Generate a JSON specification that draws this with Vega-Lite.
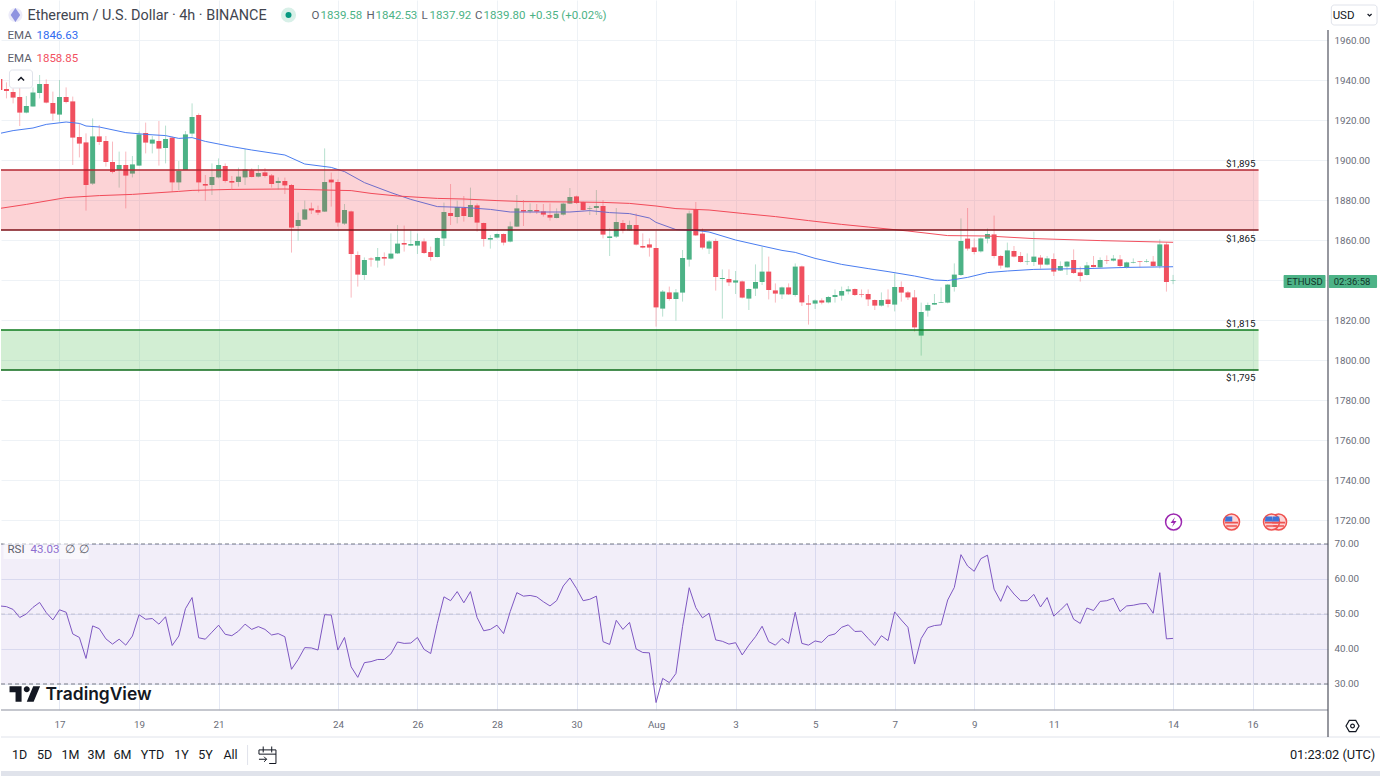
{
"$schema":"https://vega.github.io/schema/vega-lite/v6.json",
"padding":0,
"background":"#ffffff",
"spacing":0,
"bounds":"flush",
"resolve":{"scale":{"color":"independent","stroke":"independent","fill":"independent"}},
"config":{"view":{"stroke":null},"font":"Roboto","text":{"font":"Roboto"}},
"datasets":{
"candles":[
{"t":"2023-07-15T12:00","o":1940.5,"h":1942,"l":1930.8,"c":1935,"r":52.3},
{"t":"2023-07-15T16:00","o":1935.5,"h":1938.8,"l":1930.8,"c":1934.5,"r":52.1},
{"t":"2023-07-15T20:00","o":1934,"h":1935.8,"l":1928.3,"c":1931.2,"r":51.3},
{"t":"2023-07-16T00:00","o":1931.5,"h":1936.7,"l":1917,"c":1923.7,"r":49},
{"t":"2023-07-16T04:00","o":1923.7,"h":1932,"l":1923.3,"c":1927,"r":50},
{"t":"2023-07-16T08:00","o":1926.7,"h":1936.3,"l":1926.7,"c":1933.7,"r":51.9},
{"t":"2023-07-16T12:00","o":1933.5,"h":1942.5,"l":1930.8,"c":1938,"r":53.3},
{"t":"2023-07-16T16:00","o":1938,"h":1940.3,"l":1928.3,"c":1928.7,"r":50.4},
{"t":"2023-07-16T20:00","o":1928.5,"h":1934.2,"l":1919.7,"c":1923.2,"r":48.3},
{"t":"2023-07-17T00:00","o":1922.7,"h":1940,"l":1919.2,"c":1931.5,"r":51.2},
{"t":"2023-07-17T04:00","o":1931.5,"h":1936.3,"l":1928.3,"c":1929,"r":50.5},
{"t":"2023-07-17T08:00","o":1929.3,"h":1931.7,"l":1897.5,"c":1911.2,"r":44.3},
{"t":"2023-07-17T12:00","o":1911.5,"h":1918.3,"l":1901.3,"c":1908.2,"r":43.3},
{"t":"2023-07-17T16:00","o":1908.8,"h":1913.3,"l":1874.7,"c":1887.5,"r":37.3},
{"t":"2023-07-17T20:00","o":1888.2,"h":1920.8,"l":1887.5,"c":1911.8,"r":46.6},
{"t":"2023-07-18T00:00","o":1911.8,"h":1917.5,"l":1907.5,"c":1909,"r":45.8},
{"t":"2023-07-18T04:00","o":1909.5,"h":1912,"l":1896.7,"c":1899,"r":42.9},
{"t":"2023-07-18T08:00","o":1899,"h":1909.2,"l":1893.3,"c":1894,"r":41.4},
{"t":"2023-07-18T12:00","o":1895,"h":1904.2,"l":1886.2,"c":1897.5,"r":42.8},
{"t":"2023-07-18T16:00","o":1897.5,"h":1904.2,"l":1875.8,"c":1892.2,"r":41.1},
{"t":"2023-07-18T20:00","o":1893.2,"h":1902,"l":1891.3,"c":1897.8,"r":43.7},
{"t":"2023-07-19T00:00","o":1897.2,"h":1914.2,"l":1897,"c":1912.8,"r":49.8},
{"t":"2023-07-19T04:00","o":1913.5,"h":1918.7,"l":1903.3,"c":1908.7,"r":48.5},
{"t":"2023-07-19T08:00","o":1908.2,"h":1912,"l":1903.3,"c":1910.2,"r":48.7},
{"t":"2023-07-19T12:00","o":1909.5,"h":1919.5,"l":1897.2,"c":1905.7,"r":47.1},
{"t":"2023-07-19T16:00","o":1906,"h":1917.2,"l":1898.3,"c":1910.5,"r":49.2},
{"t":"2023-07-19T20:00","o":1911.2,"h":1911.7,"l":1884.2,"c":1888.8,"r":41},
{"t":"2023-07-20T00:00","o":1888.8,"h":1899.5,"l":1885,"c":1894.5,"r":43.7},
{"t":"2023-07-20T04:00","o":1895,"h":1914.5,"l":1895,"c":1912.8,"r":51.5},
{"t":"2023-07-20T08:00","o":1913.2,"h":1928.3,"l":1911.7,"c":1921.5,"r":54.7},
{"t":"2023-07-20T12:00","o":1922.5,"h":1923.3,"l":1883.8,"c":1888.8,"r":43.2},
{"t":"2023-07-20T16:00","o":1888,"h":1892.5,"l":1879.7,"c":1887.2,"r":42.8},
{"t":"2023-07-20T20:00","o":1887.5,"h":1898.3,"l":1882.5,"c":1891.5,"r":44.8},
{"t":"2023-07-21T00:00","o":1891.3,"h":1900.8,"l":1890.8,"c":1897.5,"r":46.8},
{"t":"2023-07-21T04:00","o":1897,"h":1898.3,"l":1888.7,"c":1889.5,"r":44.2},
{"t":"2023-07-21T08:00","o":1889.5,"h":1892,"l":1885.3,"c":1888.7,"r":43.8},
{"t":"2023-07-21T12:00","o":1889,"h":1896.2,"l":1886.7,"c":1891.7,"r":45.1},
{"t":"2023-07-21T16:00","o":1891.3,"h":1905.5,"l":1887.5,"c":1895.3,"r":47.1},
{"t":"2023-07-21T20:00","o":1894.8,"h":1895.8,"l":1891.3,"c":1891.5,"r":45.6},
{"t":"2023-07-22T00:00","o":1891.7,"h":1897.5,"l":1891.3,"c":1893.5,"r":46.4},
{"t":"2023-07-22T04:00","o":1893.8,"h":1896,"l":1891.3,"c":1892,"r":45.6},
{"t":"2023-07-22T08:00","o":1892.3,"h":1893,"l":1886.2,"c":1888,"r":44},
{"t":"2023-07-22T12:00","o":1888.5,"h":1891.3,"l":1885.3,"c":1889.5,"r":44.4},
{"t":"2023-07-22T16:00","o":1889.5,"h":1891.2,"l":1883,"c":1887.3,"r":43.5},
{"t":"2023-07-22T20:00","o":1887.5,"h":1888,"l":1853.7,"c":1866.2,"r":34.2},
{"t":"2023-07-23T00:00","o":1867,"h":1873.7,"l":1859.7,"c":1870,"r":37},
{"t":"2023-07-23T04:00","o":1870.2,"h":1879.7,"l":1870,"c":1875.3,"r":40.4},
{"t":"2023-07-23T08:00","o":1875.8,"h":1878.7,"l":1873,"c":1874.8,"r":40.3},
{"t":"2023-07-23T12:00","o":1875,"h":1877.2,"l":1872.5,"c":1873.7,"r":39.7},
{"t":"2023-07-23T16:00","o":1874.2,"h":1905.8,"l":1874,"c":1889,"r":49.8},
{"t":"2023-07-23T20:00","o":1890.2,"h":1893.7,"l":1876.7,"c":1888.8,"r":49.7},
{"t":"2023-07-24T00:00","o":1889,"h":1890.3,"l":1866.7,"c":1868.7,"r":39.7},
{"t":"2023-07-24T04:00","o":1868.2,"h":1878,"l":1867.5,"c":1875,"r":43.3},
{"t":"2023-07-24T08:00","o":1874.3,"h":1874.7,"l":1831.2,"c":1853,"r":34.9},
{"t":"2023-07-24T12:00","o":1852.5,"h":1854.3,"l":1836.7,"c":1842.7,"r":31.9},
{"t":"2023-07-24T16:00","o":1842.5,"h":1851.3,"l":1840,"c":1850,"r":36.1},
{"t":"2023-07-24T20:00","o":1850.7,"h":1851.3,"l":1846.7,"c":1850.3,"r":36.4},
{"t":"2023-07-25T00:00","o":1849.7,"h":1856,"l":1846.2,"c":1851.5,"r":37},
{"t":"2023-07-25T04:00","o":1851.5,"h":1853.8,"l":1847.2,"c":1850.7,"r":37},
{"t":"2023-07-25T08:00","o":1850.7,"h":1863.3,"l":1850.3,"c":1853.2,"r":38.6},
{"t":"2023-07-25T12:00","o":1853.3,"h":1867.5,"l":1853,"c":1858.2,"r":42},
{"t":"2023-07-25T16:00","o":1858.5,"h":1867.2,"l":1854.2,"c":1857.7,"r":41.6},
{"t":"2023-07-25T20:00","o":1857.2,"h":1864.7,"l":1857,"c":1858,"r":41.7},
{"t":"2023-07-26T00:00","o":1857.2,"h":1863.3,"l":1853,"c":1859.5,"r":43.3},
{"t":"2023-07-26T04:00","o":1859.3,"h":1860.8,"l":1853,"c":1853.5,"r":39.9},
{"t":"2023-07-26T08:00","o":1854,"h":1856.7,"l":1849.7,"c":1851.5,"r":38.7},
{"t":"2023-07-26T12:00","o":1851.5,"h":1861.3,"l":1851.3,"c":1861,"r":47.3},
{"t":"2023-07-26T16:00","o":1860.8,"h":1878.7,"l":1857,"c":1874,"r":54.9},
{"t":"2023-07-26T20:00","o":1873.5,"h":1888,"l":1867.5,"c":1872,"r":53.8},
{"t":"2023-07-27T00:00","o":1871.5,"h":1879.7,"l":1868.3,"c":1876.5,"r":56.4},
{"t":"2023-07-27T04:00","o":1876,"h":1882,"l":1869.2,"c":1872,"r":53.2},
{"t":"2023-07-27T08:00","o":1871.5,"h":1886.2,"l":1871.3,"c":1877.5,"r":56.4},
{"t":"2023-07-27T12:00","o":1877.3,"h":1878.3,"l":1864.2,"c":1868.7,"r":49},
{"t":"2023-07-27T16:00","o":1868.5,"h":1868.7,"l":1856.7,"c":1860.5,"r":45.2},
{"t":"2023-07-27T20:00","o":1860.2,"h":1862.5,"l":1855.7,"c":1861,"r":45.6},
{"t":"2023-07-28T00:00","o":1861.2,"h":1863.3,"l":1860.8,"c":1863,"r":46.8},
{"t":"2023-07-28T04:00","o":1863,"h":1863.3,"l":1857.3,"c":1858.7,"r":44.4},
{"t":"2023-07-28T08:00","o":1859.2,"h":1869.2,"l":1858.8,"c":1866.8,"r":50.7},
{"t":"2023-07-28T12:00","o":1866.7,"h":1882.5,"l":1866.5,"c":1875.8,"r":56.1},
{"t":"2023-07-28T16:00","o":1875,"h":1880,"l":1867,"c":1874.2,"r":55.1},
{"t":"2023-07-28T20:00","o":1874.3,"h":1878.3,"l":1873.3,"c":1875,"r":55.3},
{"t":"2023-07-29T00:00","o":1875,"h":1878,"l":1873,"c":1874.2,"r":54.9},
{"t":"2023-07-29T04:00","o":1874.3,"h":1878,"l":1871.7,"c":1872.7,"r":53.5},
{"t":"2023-07-29T08:00","o":1872.5,"h":1878.3,"l":1869.7,"c":1871.2,"r":52.3},
{"t":"2023-07-29T12:00","o":1871,"h":1875.8,"l":1870.8,"c":1873.2,"r":53.8},
{"t":"2023-07-29T16:00","o":1872.7,"h":1878.7,"l":1872.2,"c":1878.2,"r":58},
{"t":"2023-07-29T20:00","o":1878.2,"h":1886,"l":1878,"c":1881.5,"r":60.3},
{"t":"2023-07-30T00:00","o":1881.8,"h":1882.2,"l":1878,"c":1878.5,"r":57.3},
{"t":"2023-07-30T04:00","o":1879,"h":1879.2,"l":1874.7,"c":1875,"r":53.8},
{"t":"2023-07-30T08:00","o":1875.7,"h":1877,"l":1872.5,"c":1876,"r":54.2},
{"t":"2023-07-30T12:00","o":1876,"h":1885,"l":1872.5,"c":1877,"r":55.1},
{"t":"2023-07-30T16:00","o":1877,"h":1880,"l":1860.8,"c":1862.7,"r":42.1},
{"t":"2023-07-30T20:00","o":1861,"h":1865.8,"l":1852,"c":1861.8,"r":41.3},
{"t":"2023-07-31T00:00","o":1861.7,"h":1876,"l":1861,"c":1869,"r":48.2},
{"t":"2023-07-31T04:00","o":1868.5,"h":1870,"l":1863.3,"c":1864.8,"r":45.6},
{"t":"2023-07-31T08:00","o":1864.8,"h":1869.7,"l":1864.5,"c":1867.5,"r":47.6},
{"t":"2023-07-31T12:00","o":1867.5,"h":1873.3,"l":1857.3,"c":1857.7,"r":40},
{"t":"2023-07-31T16:00","o":1857,"h":1863.3,"l":1855.8,"c":1856.2,"r":39},
{"t":"2023-07-31T20:00","o":1857.8,"h":1860.8,"l":1851.7,"c":1856.2,"r":38.9},
{"t":"2023-08-01T00:00","o":1856,"h":1864.5,"l":1816.7,"c":1826.3,"r":24.7},
{"t":"2023-08-01T04:00","o":1825.7,"h":1835,"l":1821.7,"c":1834.2,"r":31.6},
{"t":"2023-08-01T08:00","o":1833.8,"h":1836.7,"l":1829.7,"c":1830.5,"r":30.4},
{"t":"2023-08-01T12:00","o":1830.5,"h":1835.5,"l":1819.7,"c":1833.8,"r":33},
{"t":"2023-08-01T16:00","o":1833.7,"h":1855,"l":1829.2,"c":1851,"r":46.4},
{"t":"2023-08-01T20:00","o":1850.2,"h":1874.7,"l":1846.7,"c":1873.3,"r":57.5},
{"t":"2023-08-02T00:00","o":1875.3,"h":1879,"l":1862,"c":1862.3,"r":51.8},
{"t":"2023-08-02T04:00","o":1863.2,"h":1865.8,"l":1855.3,"c":1856.2,"r":48.9},
{"t":"2023-08-02T08:00","o":1855.7,"h":1860,"l":1853,"c":1859.3,"r":50.2},
{"t":"2023-08-02T12:00","o":1859.5,"h":1860.7,"l":1834.7,"c":1841.5,"r":42.6},
{"t":"2023-08-02T16:00","o":1840.5,"h":1845.3,"l":1820.7,"c":1841,"r":42.2},
{"t":"2023-08-02T20:00","o":1840.5,"h":1845.3,"l":1837,"c":1838.8,"r":41.4},
{"t":"2023-08-03T00:00","o":1838.7,"h":1844.5,"l":1833,"c":1839.8,"r":41.8},
{"t":"2023-08-03T04:00","o":1839.3,"h":1839.7,"l":1830.8,"c":1831.2,"r":38.3},
{"t":"2023-08-03T08:00","o":1830.7,"h":1835.8,"l":1825,"c":1835.5,"r":41.1},
{"t":"2023-08-03T12:00","o":1835.7,"h":1847.8,"l":1832,"c":1839,"r":43.5},
{"t":"2023-08-03T16:00","o":1839,"h":1856.7,"l":1837.5,"c":1844.2,"r":46.5},
{"t":"2023-08-03T20:00","o":1844.2,"h":1851.7,"l":1830.3,"c":1835,"r":42.1},
{"t":"2023-08-04T00:00","o":1834.8,"h":1838.3,"l":1828.7,"c":1833.2,"r":41.1},
{"t":"2023-08-04T04:00","o":1832.8,"h":1836.7,"l":1830.5,"c":1836.3,"r":43},
{"t":"2023-08-04T08:00","o":1836.3,"h":1838.3,"l":1832.5,"c":1832.8,"r":41.6},
{"t":"2023-08-04T12:00","o":1832.5,"h":1848.3,"l":1831.7,"c":1846.7,"r":50.5},
{"t":"2023-08-04T16:00","o":1846.8,"h":1847.2,"l":1827,"c":1828.8,"r":41.6},
{"t":"2023-08-04T20:00","o":1828.3,"h":1832.5,"l":1817.7,"c":1827.7,"r":41.1},
{"t":"2023-08-05T00:00","o":1828.2,"h":1830.3,"l":1825.5,"c":1829.8,"r":42.3},
{"t":"2023-08-05T04:00","o":1829.8,"h":1830.8,"l":1827.8,"c":1828.7,"r":41.9},
{"t":"2023-08-05T08:00","o":1828.8,"h":1832,"l":1828.3,"c":1831.5,"r":43.8},
{"t":"2023-08-05T12:00","o":1831.5,"h":1835.3,"l":1828.7,"c":1832.5,"r":44.3},
{"t":"2023-08-05T16:00","o":1832.2,"h":1836.7,"l":1829.7,"c":1834.5,"r":46.2},
{"t":"2023-08-05T20:00","o":1834.3,"h":1837,"l":1832.8,"c":1835.3,"r":46.9},
{"t":"2023-08-06T00:00","o":1835.5,"h":1835.8,"l":1832,"c":1832.5,"r":45},
{"t":"2023-08-06T04:00","o":1833,"h":1835.3,"l":1831.3,"c":1832.7,"r":45.1},
{"t":"2023-08-06T08:00","o":1833,"h":1835.3,"l":1827,"c":1830.3,"r":43},
{"t":"2023-08-06T12:00","o":1830,"h":1830.3,"l":1825,"c":1827.2,"r":41},
{"t":"2023-08-06T16:00","o":1827.2,"h":1833.8,"l":1826.7,"c":1830,"r":43.8},
{"t":"2023-08-06T20:00","o":1830.2,"h":1835.3,"l":1826.3,"c":1828,"r":42.4},
{"t":"2023-08-07T00:00","o":1827.7,"h":1843.3,"l":1824.3,"c":1836.5,"r":50.6},
{"t":"2023-08-07T04:00","o":1836.5,"h":1839.3,"l":1829.2,"c":1833.7,"r":48.3},
{"t":"2023-08-07T08:00","o":1833.8,"h":1834.5,"l":1830,"c":1831.3,"r":46.2},
{"t":"2023-08-07T12:00","o":1831.3,"h":1835,"l":1814.2,"c":1816.3,"r":35.7},
{"t":"2023-08-07T16:00","o":1812.2,"h":1828.7,"l":1802.2,"c":1824,"r":43},
{"t":"2023-08-07T20:00","o":1824.7,"h":1828.7,"l":1821.7,"c":1827.5,"r":46.1},
{"t":"2023-08-08T00:00","o":1827.7,"h":1833,"l":1827.5,"c":1828.5,"r":46.7},
{"t":"2023-08-08T04:00","o":1828.5,"h":1836.3,"l":1828.5,"c":1828.8,"r":46.9},
{"t":"2023-08-08T08:00","o":1828.7,"h":1838,"l":1828.3,"c":1837.7,"r":54},
{"t":"2023-08-08T12:00","o":1836.5,"h":1848.3,"l":1834.2,"c":1842.7,"r":57.6},
{"t":"2023-08-08T16:00","o":1842.5,"h":1870.8,"l":1842,"c":1859.5,"r":66.95},
{"t":"2023-08-08T20:00","o":1860.7,"h":1876,"l":1854.7,"c":1855.7,"r":63.7},
{"t":"2023-08-09T00:00","o":1856.3,"h":1860.8,"l":1852.8,"c":1854,"r":62.2},
{"t":"2023-08-09T04:00","o":1854.3,"h":1861.3,"l":1853.7,"c":1860.8,"r":65.8},
{"t":"2023-08-09T08:00","o":1860.7,"h":1865.8,"l":1858.3,"c":1863,"r":66.8},
{"t":"2023-08-09T12:00","o":1862.8,"h":1872.2,"l":1850.8,"c":1852,"r":57.1},
{"t":"2023-08-09T16:00","o":1852,"h":1852.5,"l":1845.7,"c":1847.2,"r":53.6},
{"t":"2023-08-09T20:00","o":1846.3,"h":1858.7,"l":1846.2,"c":1854.8,"r":58.1},
{"t":"2023-08-10T00:00","o":1854.5,"h":1857,"l":1851.3,"c":1851.7,"r":55.7},
{"t":"2023-08-10T04:00","o":1852,"h":1854,"l":1848.7,"c":1849,"r":53.8},
{"t":"2023-08-10T08:00","o":1849.2,"h":1853.3,"l":1847.5,"c":1849.5,"r":53.8},
{"t":"2023-08-10T12:00","o":1849,"h":1864.2,"l":1847,"c":1851.7,"r":55.6},
{"t":"2023-08-10T16:00","o":1851.2,"h":1852.5,"l":1845.7,"c":1847.7,"r":52},
{"t":"2023-08-10T20:00","o":1847.7,"h":1852,"l":1847.3,"c":1850.8,"r":54.7},
{"t":"2023-08-11T00:00","o":1850.5,"h":1853.3,"l":1842,"c":1844.2,"r":49.4},
{"t":"2023-08-11T04:00","o":1844.7,"h":1849.3,"l":1844.5,"c":1847,"r":51.1},
{"t":"2023-08-11T08:00","o":1846.7,"h":1849.5,"l":1842.5,"c":1849.2,"r":53},
{"t":"2023-08-11T12:00","o":1850,"h":1855.3,"l":1843,"c":1843.5,"r":48.5},
{"t":"2023-08-11T16:00","o":1843.8,"h":1846.7,"l":1839.2,"c":1842,"r":47.3},
{"t":"2023-08-11T20:00","o":1842.5,"h":1849,"l":1842.2,"c":1847.3,"r":51.7},
{"t":"2023-08-12T00:00","o":1847.5,"h":1852,"l":1846.3,"c":1846.5,"r":51},
{"t":"2023-08-12T04:00","o":1846.3,"h":1851.3,"l":1846.2,"c":1850,"r":53.6},
{"t":"2023-08-12T08:00","o":1850,"h":1852.3,"l":1848,"c":1849.7,"r":53.8},
{"t":"2023-08-12T12:00","o":1849.7,"h":1852.5,"l":1849.3,"c":1850.7,"r":54.5},
{"t":"2023-08-12T16:00","o":1850.3,"h":1852.5,"l":1846.5,"c":1847,"r":50.7},
{"t":"2023-08-12T20:00","o":1846.5,"h":1849.2,"l":1845.7,"c":1848.8,"r":52.3},
{"t":"2023-08-13T00:00","o":1848.7,"h":1850.8,"l":1848.3,"c":1849,"r":52.5},
{"t":"2023-08-13T04:00","o":1849.3,"h":1849.5,"l":1846.3,"c":1849,"r":52.9},
{"t":"2023-08-13T08:00","o":1849,"h":1850.5,"l":1848.7,"c":1849.3,"r":53},
{"t":"2023-08-13T12:00","o":1849.2,"h":1852,"l":1846.7,"c":1847,"r":50.2},
{"t":"2023-08-13T16:00","o":1847,"h":1860.3,"l":1845.7,"c":1857.8,"r":61.8},
{"t":"2023-08-13T20:00","o":1857.8,"h":1858.8,"l":1834.2,"c":1839,"r":42.9},
{"t":"2023-08-14T00:00","o":1839.58,"h":1842.53,"l":1837.92,"c":1839.8,"r":43.03}
],
"emaBlue":[
{"t":"2023-07-15T12:00","v":1913.3},{"t":"2023-07-15T20:00","v":1914.7},{"t":"2023-07-16T08:00","v":1916},{"t":"2023-07-16T16:00","v":1917.8},{"t":"2023-07-17T04:00","v":1919},{"t":"2023-07-17T12:00","v":1918.3},{"t":"2023-07-17T16:00","v":1917},{"t":"2023-07-18T00:00","v":1916.5},{"t":"2023-07-18T16:00","v":1913.7},{"t":"2023-07-19T04:00","v":1912.8},{"t":"2023-07-19T16:00","v":1912.2},{"t":"2023-07-20T00:00","v":1910.8},{"t":"2023-07-20T08:00","v":1911.2},{"t":"2023-07-20T16:00","v":1909.3},{"t":"2023-07-21T08:00","v":1906.7},{"t":"2023-07-21T20:00","v":1905},{"t":"2023-07-22T16:00","v":1902.5},{"t":"2023-07-23T04:00","v":1898},{"t":"2023-07-23T20:00","v":1896.3},{"t":"2023-07-24T04:00","v":1894.2},{"t":"2023-07-24T16:00","v":1888.7},{"t":"2023-07-25T08:00","v":1883.7},{"t":"2023-07-25T20:00","v":1880.3},{"t":"2023-07-26T12:00","v":1876.7},{"t":"2023-07-27T04:00","v":1876.3},{"t":"2023-07-27T20:00","v":1875.3},{"t":"2023-07-28T08:00","v":1874},{"t":"2023-07-29T04:00","v":1874},{"t":"2023-07-29T20:00","v":1874},{"t":"2023-07-30T08:00","v":1874.7},{"t":"2023-07-30T20:00","v":1873.7},{"t":"2023-07-31T08:00","v":1873.2},{"t":"2023-07-31T20:00","v":1871},{"t":"2023-08-01T00:00","v":1868.8},{"t":"2023-08-01T12:00","v":1865.2},{"t":"2023-08-02T00:00","v":1864.8},{"t":"2023-08-02T08:00","v":1864},{"t":"2023-08-03T00:00","v":1860},{"t":"2023-08-03T16:00","v":1857},{"t":"2023-08-04T04:00","v":1854.8},{"t":"2023-08-04T12:00","v":1853.8},{"t":"2023-08-05T00:00","v":1850.8},{"t":"2023-08-05T16:00","v":1847.8},{"t":"2023-08-06T08:00","v":1845.7},{"t":"2023-08-06T20:00","v":1844.2},{"t":"2023-08-07T12:00","v":1842},{"t":"2023-08-08T00:00","v":1840},{"t":"2023-08-08T08:00","v":1839.7},{"t":"2023-08-08T20:00","v":1841.3},{"t":"2023-08-09T08:00","v":1843.7},{"t":"2023-08-09T20:00","v":1844.5},{"t":"2023-08-10T12:00","v":1845.3},{"t":"2023-08-11T00:00","v":1845.5},{"t":"2023-08-11T20:00","v":1845.7},{"t":"2023-08-12T20:00","v":1846.3},{"t":"2023-08-14T00:00","v":1846.63}
],
"emaRed":[
{"t":"2023-07-15T12:00","v":1875.8},{"t":"2023-07-16T04:00","v":1877.8},{"t":"2023-07-17T04:00","v":1881.2},{"t":"2023-07-18T00:00","v":1882.2},{"t":"2023-07-18T20:00","v":1882.8},{"t":"2023-07-20T00:00","v":1884.3},{"t":"2023-07-20T08:00","v":1884.8},{"t":"2023-07-21T08:00","v":1885.3},{"t":"2023-07-22T16:00","v":1885.5},{"t":"2023-07-23T16:00","v":1885},{"t":"2023-07-24T08:00","v":1884.7},{"t":"2023-07-24T20:00","v":1883.3},{"t":"2023-07-25T12:00","v":1882},{"t":"2023-07-26T12:00","v":1880.8},{"t":"2023-07-27T04:00","v":1880.5},{"t":"2023-07-28T00:00","v":1879.7},{"t":"2023-07-28T16:00","v":1879.2},{"t":"2023-07-30T00:00","v":1879},{"t":"2023-07-30T16:00","v":1878.8},{"t":"2023-07-31T08:00","v":1878.3},{"t":"2023-08-01T00:00","v":1877},{"t":"2023-08-01T12:00","v":1875.7},{"t":"2023-08-02T08:00","v":1875},{"t":"2023-08-03T04:00","v":1873.3},{"t":"2023-08-04T00:00","v":1871.7},{"t":"2023-08-04T20:00","v":1869.7},{"t":"2023-08-05T16:00","v":1867.8},{"t":"2023-08-06T08:00","v":1866.5},{"t":"2023-08-07T08:00","v":1864.5},{"t":"2023-08-08T08:00","v":1862.2},{"t":"2023-08-09T08:00","v":1862},{"t":"2023-08-10T12:00","v":1860.7},{"t":"2023-08-12T04:00","v":1859.7},{"t":"2023-08-14T00:00","v":1858.85}
],
"zones":[
{"zone":"resistance","from":"2023-07-15T12:42","to":"2023-08-16T03:36","lo":1865,"hi":1895},
{"zone":"support","from":"2023-07-15T12:42","to":"2023-08-16T03:36","lo":1795,"hi":1815}
],
"zoneLabels":[
{"t":"2023-08-16T01:48","p":1898.5,"label":"$1,895"},
{"t":"2023-08-16T01:48","p":1861,"label":"$1,865"},
{"t":"2023-08-16T01:48","p":1818.5,"label":"$1,815"},
{"t":"2023-08-16T01:48","p":1791.5,"label":"$1,795"}
],
"legendText":[
{"t":"2023-07-23T08:06","p":1972.5,"label":"O","tone":"gray"},
{"t":"2023-07-23T13:30","p":1972.5,"label":"1839.58","tone":"green"},
{"t":"2023-07-24T17:18","p":1972.5,"label":"H","tone":"gray"},
{"t":"2023-07-24T22:42","p":1972.5,"label":"1842.53","tone":"green"},
{"t":"2023-07-26T02:30","p":1972.5,"label":"L","tone":"gray"},
{"t":"2023-07-26T07:18","p":1972.5,"label":"1837.92","tone":"green"},
{"t":"2023-07-27T10:48","p":1972.5,"label":"C","tone":"gray"},
{"t":"2023-07-27T15:54","p":1972.5,"label":"1839.80","tone":"green"},
{"t":"2023-07-28T19:36","p":1972.5,"label":"+0.35 (+0.02%)","tone":"green"},
{"t":"2023-07-15T16:36","p":1962.5,"label":"EMA","tone":"gray"},
{"t":"2023-07-16T10:06","p":1962.5,"label":"1846.63","tone":"blue"},
{"t":"2023-07-15T16:36","p":1951,"label":"EMA","tone":"gray"},
{"t":"2023-07-16T10:06","p":1951,"label":"1858.85","tone":"red"},
{"t":"2023-08-18T00:18","p":1972.5,"label":"USD","tone":"dark"}
],
"titleText":[{"t":"2023-07-16T04:42","p":1972.5,"label":"Ethereum / U.S. Dollar · 4h · BINANCE"}],
"dots":[{"t":"2023-07-22T18:12","p":1972.5}],
"ethIcon":[{"t":"2023-07-15T21:24","p":1972.5}],
"buttons":[
{"from":"2023-07-15T17:48","to":"2023-07-16T07:42","lo":1936,"hi":1945},
{"from":"2023-08-17T23:30","to":"2023-08-19T03:06","lo":1967.5,"hi":1977.5}
],
"chevUp":[{"t":"2023-07-16T00:48","p":1940.5}],
"chevDown":[{"t":"2023-08-18T22:36","p":1972.5}],
"tags":[
{"from":"2023-08-16T18:42","to":"2023-08-17T20:00","lo":1836,"hi":1842.5},
{"from":"2023-08-17T22:00","to":"2023-08-19T03:06","lo":1836,"hi":1842.5}
],
"tagText":[
{"t":"2023-08-17T07:24","p":1839.2,"label":"ETHUSD"},
{"t":"2023-08-18T12:00","p":1839.2,"label":"02:36:58"}
],
"bolt":[{"t":"2023-08-14T00:18","p":1719}],
"flags":[{"t":"2023-08-16T15:42","p":1719},{"t":"2023-08-16T11:24","p":1719},{"t":"2023-08-15T11:18","p":1719}],
"axisLine1":[{"t":"2023-08-17T21:30","top":1965,"bot":1709}],
"axisLine2":[{"t":"2023-08-17T21:30","top":70.57,"bot":22.57}],
"axisLine3":[{"t":"2023-08-17T21:30","top":0,"bot":27}],
"band":[{"from":"2023-07-15T12:42","to":"2023-08-17T21:30","lo":30,"hi":70}],
"levels":[{"r":70,"kind":"outer"},{"r":30,"kind":"outer"}],
"midLevel":[{"r":50}],
"rsiBox":[{"from":"2023-07-15T14:12","to":"2023-07-17T17:30","lo":65.7,"hi":70.3}],
"rsiText":[
{"t":"2023-07-15T16:36","p":68.57,"label":"RSI","tone":"gray"},
{"t":"2023-07-16T06:30","p":68.57,"label":"43.03","tone":"purple"},
{"t":"2023-07-17T03:36","p":68.57,"label":"∅","tone":"gray"},
{"t":"2023-07-17T12:00","p":68.57,"label":"∅","tone":"gray"}
],
"logoIcon":[{"t":"2023-07-16T03:12","p":27.14}],
"logoText":[{"t":"2023-07-16T15:36","p":27.14,"label":"TradingView"}],
"panelEnd":[{"from":"2023-07-15T12:42","to":"2023-08-17T21:30","r":22.57}],
"toolbar":[
{"t":"2023-07-15T23:54","v":45,"label":"1D"},
{"t":"2023-07-16T14:57","v":45,"label":"5D"},
{"t":"2023-07-17T06:36","v":45,"label":"1M"},
{"t":"2023-07-17T22:18","v":45,"label":"3M"},
{"t":"2023-07-18T14:00","v":45,"label":"6M"},
{"t":"2023-07-19T08:06","v":45,"label":"YTD"},
{"t":"2023-07-20T01:36","v":45,"label":"1Y"},
{"t":"2023-07-20T16:06","v":45,"label":"5Y"},
{"t":"2023-07-21T07:12","v":45,"label":"All"}
],
"clock":[{"t":"2023-08-19T02:00","v":45,"label":"01:23:02 (UTC)"}],
"calendar":[{"t":"2023-07-22T05:30","v":45}],
"toolSep":[{"t":"2023-07-21T17:30","top":35,"bot":55}],
"gear":[{"t":"2023-08-18T12:18","v":16}],
"sepLine":[{"from":"2023-07-15T12:42","to":"2023-08-19T05:30","v":27}],
"strip":[{"from":"2023-07-15T12:42","to":"2023-08-19T05:30","lo":61,"hi":66}]
},
"vconcat":[
{
"width":1327,"height":542,
"resolve":{"scale":{"color":"independent","stroke":"independent","fill":"independent"}},
"layer":[
{"data":{"name":"candles"},"mark":{"type":"rule","strokeWidth":1,"opacity":0.4,"clip":true},
"encoding":{
"x":{"field":"t","type":"temporal","scale":{"type":"time","padding":0,"nice":false,"domain":["2023-07-15T12:42","2023-08-17T21:30"]},"axis":{"title":null,"orient":"bottom","labels":false,"ticks":false,"domain":false,"grid":true,"gridColor":"#eef2f6","gridWidth":1,"values":[{"year":2023,"month":7,"date":17},{"year":2023,"month":7,"date":19},{"year":2023,"month":7,"date":21},{"year":2023,"month":7,"date":24},{"year":2023,"month":7,"date":26},{"year":2023,"month":7,"date":28},{"year":2023,"month":7,"date":30},{"year":2023,"month":8,"date":1},{"year":2023,"month":8,"date":3},{"year":2023,"month":8,"date":5},{"year":2023,"month":8,"date":7},{"year":2023,"month":8,"date":9},{"year":2023,"month":8,"date":11},{"year":2023,"month":8,"date":14},{"year":2023,"month":8,"date":16}]}},
"y":{"field":"l","type":"quantitative","scale":{"domain":[1709,1980],"nice":false,"zero":false},"axis":{"title":null,"orient":"right","domain":false,"ticks":false,"grid":true,"gridColor":"#eef2f6","gridWidth":1,"labelColor":"#6a6d78","labelFontSize":9.8,"labelFont":"Roboto","labelPadding":6,"format":".2f","values":[1720,1740,1760,1780,1800,1820,1840,1860,1880,1900,1920,1940,1960]}},
"y2":{"field":"h"},
"color":{"condition":{"test":"datum.c>=datum.o","value":"#4cb286"},"value":"#f0505f"}}},
{"data":{"name":"candles"},"mark":{"type":"bar","size":5,"clip":true},
"encoding":{
"x":{"field":"t","type":"temporal"},
"y":{"field":"o","type":"quantitative"},
"y2":{"field":"c"},
"color":{"condition":{"test":"datum.c>=datum.o","value":"#4cb286"},"value":"#f0505f"}}},
{"data":{"name":"emaBlue"},"mark":{"type":"line","color":"#4a7df0","strokeWidth":1,"clip":true},
"encoding":{"x":{"field":"t","type":"temporal"},"y":{"field":"v","type":"quantitative"}}},
{"data":{"name":"emaRed"},"mark":{"type":"line","color":"#f2505f","strokeWidth":1,"clip":true},
"encoding":{"x":{"field":"t","type":"temporal"},"y":{"field":"v","type":"quantitative"}}},
{"data":{"name":"zones"},"mark":{"type":"rect","opacity":0.22},
"encoding":{"x":{"field":"from","type":"temporal"},"x2":{"field":"to"},"y":{"field":"lo","type":"quantitative"},"y2":{"field":"hi"},
"fill":{"field":"zone","type":"nominal","legend":null,"scale":{"domain":["resistance","support"],"range":["#f23645","#32b237"]}}}},
{"data":{"name":"zones"},"mark":{"type":"rule","strokeWidth":1.5},
"encoding":{"x":{"field":"from","type":"temporal"},"x2":{"field":"to"},"y":{"field":"hi","type":"quantitative"},
"stroke":{"field":"zone","type":"nominal","legend":null,"scale":{"domain":["resistance","support"],"range":["#b32630","#0c7a1c"]}}}},
{"data":{"name":"zones"},"mark":{"type":"rule","strokeWidth":1.5},
"encoding":{"x":{"field":"from","type":"temporal"},"x2":{"field":"to"},"y":{"field":"lo","type":"quantitative"},
"stroke":{"field":"zone","type":"nominal","legend":null,"scale":{"domain":["resistance","support"],"range":["#7d1017","#0c6a18"]}}}},
{"data":{"name":"zoneLabels"},"mark":{"type":"text","align":"right","dy":1,"fontSize":9.8,"color":"#131722"},
"encoding":{"x":{"field":"t","type":"temporal"},"y":{"field":"p","type":"quantitative"},"text":{"field":"label"}}},
{"data":{"name":"axisLine1"},"mark":{"type":"rule","color":"#50535e","strokeWidth":1.2},
"encoding":{"x":{"field":"t","type":"temporal"},"y":{"field":"top","type":"quantitative"},"y2":{"field":"bot"}}},
{"data":{"name":"buttons"},"mark":{"type":"rect","fill":"#ffffff","stroke":"#e0e3eb","cornerRadius":3},
"encoding":{"x":{"field":"from","type":"temporal"},"x2":{"field":"to"},"y":{"field":"lo","type":"quantitative"},"y2":{"field":"hi"}}},
{"data":{"name":"chevUp"},"mark":{"type":"point","shape":"M-0.5 0.25L0 -0.25L0.5 0.25","size":144,"stroke":"#131722","strokeWidth":1.5,"opacity":1},
"encoding":{"x":{"field":"t","type":"temporal"},"y":{"field":"p","type":"quantitative"}}},
{"data":{"name":"chevDown"},"mark":{"type":"point","shape":"M-0.5 -0.25L0 0.25L0.5 -0.25","size":64,"stroke":"#131722","strokeWidth":1.2,"opacity":1},
"encoding":{"x":{"field":"t","type":"temporal"},"y":{"field":"p","type":"quantitative"}}},
{"data":{"name":"titleText"},"mark":{"type":"text","align":"left","dy":1,"fontSize":14.4,"color":"#42454f"},
"encoding":{"x":{"field":"t","type":"temporal"},"y":{"field":"p","type":"quantitative"},"text":{"field":"label"}}},
{"data":{"name":"legendText"},"mark":{"type":"text","align":"left","dy":1,"fontSize":11.5},
"encoding":{"x":{"field":"t","type":"temporal"},"y":{"field":"p","type":"quantitative"},"text":{"field":"label"},
"color":{"field":"tone","type":"nominal","legend":null,"scale":{"domain":["gray","green","blue","red","dark"],"range":["#5d606b","#4cb286","#2f6bf0","#f2505f","#131722"]}}}},
{"data":{"name":"dots"},"mark":{"type":"point","shape":"circle","filled":true,"size":230,"color":"#d8f0e8","opacity":1},
"encoding":{"x":{"field":"t","type":"temporal"},"y":{"field":"p","type":"quantitative"}}},
{"data":{"name":"dots"},"mark":{"type":"point","shape":"circle","filled":true,"size":36,"color":"#089981","opacity":1},
"encoding":{"x":{"field":"t","type":"temporal"},"y":{"field":"p","type":"quantitative"}}},
{"data":{"name":"ethIcon"},"mark":{"type":"point","shape":"circle","filled":true,"size":200,"color":"#ecebf9","opacity":1},
"encoding":{"x":{"field":"t","type":"temporal"},"y":{"field":"p","type":"quantitative"}}},
{"data":{"name":"ethIcon"},"mark":{"type":"point","shape":"M0 -0.5L0.34 0L0 0.5L-0.34 0Z","filled":true,"size":784,"color":"#8f93e0","opacity":1},
"encoding":{"x":{"field":"t","type":"temporal"},"y":{"field":"p","type":"quantitative"}}},
{"data":{"name":"tags"},"mark":{"type":"rect","fill":"#4db387","cornerRadius":1},
"encoding":{"x":{"field":"from","type":"temporal"},"x2":{"field":"to"},"y":{"field":"lo","type":"quantitative"},"y2":{"field":"hi"}}},
{"data":{"name":"tagText"},"mark":{"type":"text","fontSize":9.5,"color":"#12352a"},
"encoding":{"x":{"field":"t","type":"temporal"},"y":{"field":"p","type":"quantitative"},"text":{"field":"label"}}},
{"data":{"name":"bolt"},"mark":{"type":"point","shape":"circle","size":254,"fill":"#ffffff","stroke":"#9c27b0","strokeWidth":1.5,"opacity":1},
"encoding":{"x":{"field":"t","type":"temporal"},"y":{"field":"p","type":"quantitative"}}},
{"data":{"name":"bolt"},"mark":{"type":"point","shape":"M0.15 -0.5L-0.3 0.1L0 0.1L-0.15 0.5L0.3 -0.1L0 -0.1Z","filled":true,"size":400,"color":"#9c27b0","opacity":1},
"encoding":{"x":{"field":"t","type":"temporal"},"y":{"field":"p","type":"quantitative"}}},
{"data":{"name":"flags"},"mark":{"type":"point","shape":"circle","size":254,"fill":"#fbd5d7","stroke":"#ef5350","strokeWidth":1.5,"opacity":1},
"encoding":{"x":{"field":"t","type":"temporal"},"y":{"field":"p","type":"quantitative"}}},
{"data":{"name":"flags"},"mark":{"type":"point","shape":"M-0.36 -0.02H0.36V0.08H-0.36ZM-0.3 0.18H0.3V0.27H-0.3Z","filled":true,"size":1296,"color":"#ef5350","opacity":1},
"encoding":{"x":{"field":"t","type":"temporal"},"y":{"field":"p","type":"quantitative"}}},
{"data":{"name":"flags"},"mark":{"type":"point","shape":"M-0.33 -0.3H0.04V-0.03H-0.37Z","filled":true,"size":1296,"color":"#3f74d8","opacity":1},
"encoding":{"x":{"field":"t","type":"temporal"},"y":{"field":"p","type":"quantitative"}}}
]
},
{
"width":1327,"height":168,
"resolve":{"scale":{"color":"independent"}},
"layer":[
{"data":{"name":"band"},"mark":{"type":"rect","fill":"#7e57c2","opacity":0.1},
"encoding":{
"x":{"field":"from","type":"temporal","scale":{"type":"time","padding":0,"nice":false,"domain":["2023-07-15T12:42","2023-08-17T21:30"]},"axis":{"title":null,"orient":"bottom","domain":false,"ticks":false,"grid":true,"gridColor":"#e4e8f4","gridWidth":1,"labelColor":"#6a6d78","labelFontSize":9.8,"labelFont":"Roboto","labelPadding":9,"values":[{"year":2023,"month":7,"date":17},{"year":2023,"month":7,"date":19},{"year":2023,"month":7,"date":21},{"year":2023,"month":7,"date":24},{"year":2023,"month":7,"date":26},{"year":2023,"month":7,"date":28},{"year":2023,"month":7,"date":30},{"year":2023,"month":8,"date":1},{"year":2023,"month":8,"date":3},{"year":2023,"month":8,"date":5},{"year":2023,"month":8,"date":7},{"year":2023,"month":8,"date":9},{"year":2023,"month":8,"date":11},{"year":2023,"month":8,"date":14},{"year":2023,"month":8,"date":16}],"labelExpr":"date(datum.value)==1?'Aug':''+date(datum.value)"}},
"x2":{"field":"to"},
"y":{"field":"lo","type":"quantitative","scale":{"domain":[22.57,70.57],"nice":false,"zero":false},"axis":{"title":null,"orient":"right","domain":false,"ticks":false,"grid":true,"gridColor":"#e4e8f4","gridWidth":1,"labelColor":"#6a6d78","labelFontSize":9.8,"labelFont":"Roboto","labelPadding":6,"format":".2f","values":[30,40,50,60,70]}},
"y2":{"field":"hi"}}},
{"data":{"name":"levels"},"mark":{"type":"rule","color":"#787b86","strokeDash":[4,3],"strokeWidth":1},
"encoding":{"y":{"field":"r","type":"quantitative"}}},
{"data":{"name":"midLevel"},"mark":{"type":"rule","color":"#787b86","strokeDash":[4,3],"strokeWidth":1,"opacity":0.3},
"encoding":{"y":{"field":"r","type":"quantitative"}}},
{"data":{"name":"candles"},"mark":{"type":"line","color":"#7e57c2","strokeWidth":1,"clip":true},
"encoding":{"x":{"field":"t","type":"temporal"},"y":{"field":"r","type":"quantitative"}}},
{"data":{"name":"rsiBox"},"mark":{"type":"rect","fill":"#ffffff","opacity":0.55},
"encoding":{"x":{"field":"from","type":"temporal"},"x2":{"field":"to"},"y":{"field":"lo","type":"quantitative"},"y2":{"field":"hi"}}},
{"data":{"name":"rsiText"},"mark":{"type":"text","align":"left","dy":1,"fontSize":11.5},
"encoding":{"x":{"field":"t","type":"temporal"},"y":{"field":"p","type":"quantitative"},"text":{"field":"label"},
"color":{"field":"tone","type":"nominal","legend":null,"scale":{"domain":["gray","purple"],"range":["#5d606b","#8e6fd0"]}}}},
{"data":{"name":"logoIcon"},"mark":{"type":"point","shape":"M-0.111 0.25H-0.306V-0.056H-0.5V-0.25H-0.111ZM0.278 0.25H0.056L0.264 -0.25H0.486ZM-0.041 -0.153a0.097 0.097 0 1 0 0.194 0a0.097 0.097 0 1 0 -0.194 0Z","filled":true,"size":3844,"color":"#131722","opacity":1},
"encoding":{"x":{"field":"t","type":"temporal"},"y":{"field":"p","type":"quantitative"}}},
{"data":{"name":"logoText"},"mark":{"type":"text","align":"left","dy":1,"fontSize":17.4,"fontWeight":600,"font":"Inter","color":"#131722"},
"encoding":{"x":{"field":"t","type":"temporal"},"y":{"field":"p","type":"quantitative"},"text":{"field":"label"}}},
{"data":{"name":"panelEnd"},"mark":{"type":"rule","color":"#b2b5be","strokeWidth":1.5},
"encoding":{"x":{"field":"from","type":"temporal"},"x2":{"field":"to"},"y":{"field":"r","type":"quantitative"}}},
{"data":{"name":"axisLine2"},"mark":{"type":"rule","color":"#50535e","strokeWidth":1.2},
"encoding":{"x":{"field":"t","type":"temporal"},"y":{"field":"top","type":"quantitative"},"y2":{"field":"bot"}}}
]
},
{
"width":1327,"height":66,
"layer":[
{"data":{"name":"strip"},"mark":{"type":"rect","fill":"#e0e3eb"},
"encoding":{
"x":{"field":"from","type":"temporal","scale":{"type":"time","padding":0,"nice":false,"domain":["2023-07-15T12:42","2023-08-17T21:30"]},"axis":null},
"x2":{"field":"to"},
"y":{"field":"lo","type":"quantitative","scale":{"domain":[66,0],"nice":false,"zero":false},"axis":null},
"y2":{"field":"hi"}}},
{"data":{"name":"sepLine"},"mark":{"type":"rule","color":"#e0e3eb","strokeWidth":1},
"encoding":{"x":{"field":"from","type":"temporal","axis":null},"x2":{"field":"to"},"y":{"field":"v","type":"quantitative","axis":null}}},
{"data":{"name":"axisLine3"},"mark":{"type":"rule","color":"#50535e","strokeWidth":1.2},
"encoding":{"x":{"field":"t","type":"temporal","axis":null},"y":{"field":"top","type":"quantitative","axis":null},"y2":{"field":"bot"}}},
{"data":{"name":"toolSep"},"mark":{"type":"rule","color":"#e0e3eb","strokeWidth":1},
"encoding":{"x":{"field":"t","type":"temporal","axis":null},"y":{"field":"top","type":"quantitative","axis":null},"y2":{"field":"bot"}}},
{"data":{"name":"toolbar"},"mark":{"type":"text","fontSize":12.5,"color":"#131722"},
"encoding":{"x":{"field":"t","type":"temporal","axis":null},"y":{"field":"v","type":"quantitative","axis":null},"text":{"field":"label"}}},
{"data":{"name":"clock"},"mark":{"type":"text","fontSize":12.8,"align":"right","color":"#131722"},
"encoding":{"x":{"field":"t","type":"temporal","axis":null},"y":{"field":"v","type":"quantitative","axis":null},"text":{"field":"label"}}},
{"data":{"name":"calendar"},"mark":{"type":"point","shape":"M-0.5 -0.05V-0.3H0.5V0.5H0.1M-0.5 -0.05H0.5M-0.5 0.25H-0.05M-0.2 0.1L-0.05 0.25L-0.2 0.4M-0.25 -0.5V-0.15M0.25 -0.5V-0.15","size":1156,"stroke":"#131722","strokeWidth":1,"opacity":1},
"encoding":{"x":{"field":"t","type":"temporal","axis":null},"y":{"field":"v","type":"quantitative","axis":null}}},
{"data":{"name":"gear"},"mark":{"type":"point","shape":"M-0.5 0L-0.25 -0.43H0.25L0.5 0L0.25 0.43H-0.25Z","size":676,"stroke":"#131722","strokeWidth":1.2,"opacity":1},
"encoding":{"x":{"field":"t","type":"temporal","axis":null},"y":{"field":"v","type":"quantitative","axis":null}}},
{"data":{"name":"gear"},"mark":{"type":"point","shape":"circle","size":14,"stroke":"#131722","strokeWidth":1.2,"opacity":1},
"encoding":{"x":{"field":"t","type":"temporal","axis":null},"y":{"field":"v","type":"quantitative","axis":null}}}
]
}
]
}
